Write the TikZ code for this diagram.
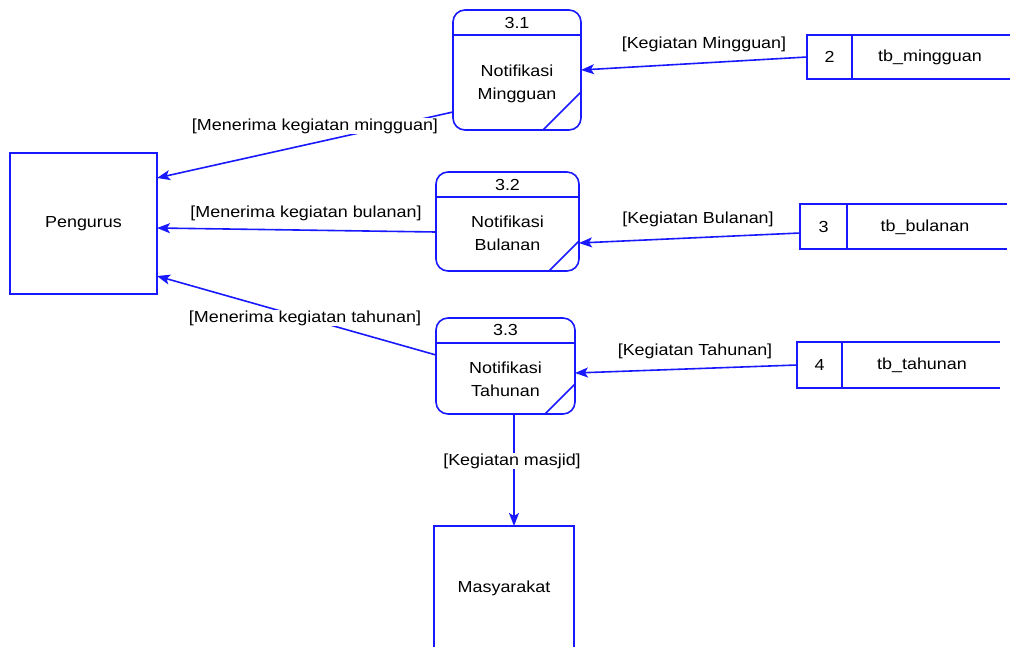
\documentclass[tikz,border=0pt]{standalone}
\usepackage{fontspec}
\setmainfont{Liberation Sans}[FakeStretch=1.12]
\usetikzlibrary{arrows.meta}
\definecolor{dfdblue}{RGB}{25,25,255}
\begin{document}
\begin{tikzpicture}[x=1pt,y=-1pt,
  every node/.style={font=\fontsize{16}{23}\selectfont, text=black},
  entity/.style={draw=dfdblue, line width=1.6pt, fill=white, inner sep=0pt, outer sep=0pt},
  procbox/.style={draw=dfdblue, line width=1.6pt, rounded corners=12pt, inner sep=0pt, outer sep=0pt},
  edgeline/.style={draw=dfdblue, line width=1.6pt},
  flow/.style={draw=dfdblue, line width=1.6pt, -{Stealth[length=13pt,width=10pt,inset=3pt]}},
  lbl/.style={fill=white, inner sep=1pt},
  txt/.style={inner sep=0pt, align=center}
]
\useasboundingbox (0,0) rectangle (1010,646);
\clip (0,0) rectangle (1010,646);

% external entities
\node[entity, minimum width=147pt, minimum height=141pt] (peng) at (83.5,223.5) {Pengurus};
\node[entity, minimum width=140pt, minimum height=140pt, anchor=north] (masy) at (504,526) {};
\node[txt] at (504,588) {Masyarakat};

% processes
\node[procbox, minimum width=128pt, minimum height=120pt] (p1) at (517,70) {};
\node[procbox, minimum width=143pt, minimum height=99pt] (p2) at (507.5,221.5) {};
\node[procbox, minimum width=139pt, minimum height=96pt] (p3) at (505.5,366) {};
\foreach \p/\s in {p1/38, p2/30, p3/30} {
  \draw[edgeline] ([yshift=-25pt]\p.north west) -- ([yshift=-25pt]\p.north east);
  \draw[edgeline] ([xshift=-\s*1pt]\p.south east) -- ([yshift=\s*1pt]\p.south east);
}
\node[txt] at (p1.north |- 0,23) {3.1};
\node[txt] at (517,83.5) {Notifikasi\\Mingguan};
\node[txt] at (p2.north |- 0,185) {3.2};
\node[txt] at (507.5,233.5) {Notifikasi\\Bulanan};
\node[txt] at (p3.north |- 0,330) {3.3};
\node[txt] at (505.5,379.5) {Notifikasi\\Tahunan};

% data stores
\node[entity, minimum width=45pt, minimum height=44pt] (s2) at (829.5,57) {2};
\draw[edgeline] (s2.north east) -- ++(170,0) (s2.south east) -- ++(170,0);
\node[txt] at (930,57) {tb\_mingguan};
\node[entity, minimum width=47pt, minimum height=45pt] (s3) at (823.5,226.5) {3};
\draw[edgeline] (s3.north east) -- ++(160,0) (s3.south east) -- ++(160,0);
\node[txt] at (925,227) {tb\_bulanan};
\node[entity, minimum width=45pt, minimum height=46pt] (s4) at (819.5,365) {4};
\draw[edgeline] (s4.north east) -- ++(158,0) (s4.south east) -- ++(158,0);
\node[txt] at (922,365) {tb\_tahunan};

% data flows
\draw[flow] (s2.west) -- (p1.east);
\draw[flow] (s3.west |- 0,233) -- (p2.east |- 0,243);
\draw[flow] (s4.west) -- (p3.east |- 0,373);
\draw[flow] (p1.west |- 0,112) -- (peng.east |- 0,178);
\draw[flow] (p2.west |- 0,232) -- (peng.east |- 0,228);
\draw[flow] (p3.west |- 0,355) -- (peng.east |- 0,276);
\draw[flow] (514,0 |- p3.south) -- (514,0 |- masy.north);

% flow labels
\node[lbl] at (315,126) {[Menerima kegiatan mingguan]};
\node[lbl] at (306,213) {[Menerima kegiatan bulanan]};
\node[lbl] at (305,318) {[Menerima kegiatan tahunan]};
\node[lbl] at (704,44) {[Kegiatan Mingguan]};
\node[lbl] at (698,219) {[Kegiatan Bulanan]};
\node[lbl] at (695,351) {[Kegiatan Tahunan]};
\node[lbl] at (512,461) {[Kegiatan masjid]};
\end{tikzpicture}
\end{document}
